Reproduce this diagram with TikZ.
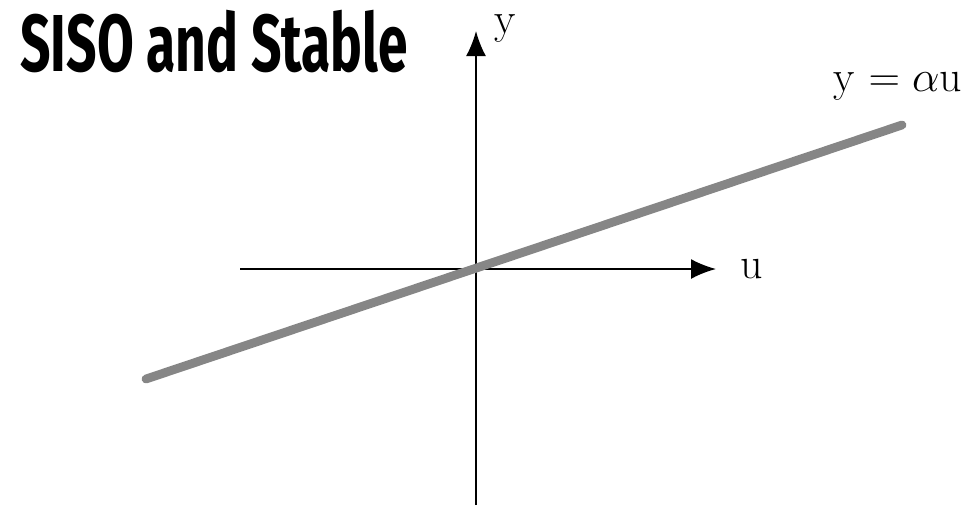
\documentclass[tikz,border=0pt]{standalone}
\usepackage{fontspec}
\newfontfamily\titlefont{Fira Sans}
\usetikzlibrary{arrows.meta,positioning}
\begin{document}
\begin{tikzpicture}[x=0.02cm, y=-0.02cm,
    axis/.style={draw, line width=1.1pt, -{Latex[length=5mm, width=4mm]}},
    gain/.style={draw, line width=5pt, gray!95, line cap=round},
    lbl/.style={inner sep=0pt, font=\fontsize{25}{30}\selectfont},
    title/.style={inner sep=0pt, anchor=west, font=\fontsize{46}{50}\titlefont\bfseries}]
    \useasboundingbox (0,0) rectangle (968,505);
    \node [title] (head) at (20,42) {\scalebox{0.66}[1]{SISO and Stable}};
    \coordinate (origin) at (476,269);
    \coordinate (xstart) at (240,269);
    \coordinate (xend) at (716,269);
    \coordinate (ystart) at (476,505);
    \coordinate (yend) at (476,31);
    \coordinate (lstart) at (146,379);
    \coordinate (lend) at (902,125);
    \node [lbl, right=14pt of xend] (ulabel) {u};
    \node [lbl] (ylabel) at (505,29) {y};
    \node [lbl] (eqlabel) at (898,86) {y $=\alpha$u};

    \path [axis] (xstart) -- (xend);
    \path [axis] (ystart) -- (yend);
    \path [gain] (lstart) -- (lend);
\end{tikzpicture}
\end{document}
